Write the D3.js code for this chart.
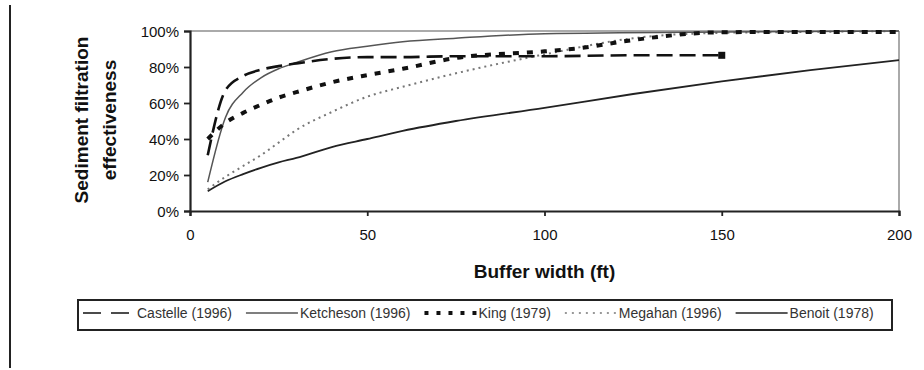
<!DOCTYPE html>
<html>
<head>
<meta charset="utf-8">
<script src="https://cdn.jsdelivr.net/npm/d3@7"></script>
<style>
  body { margin: 0; background: #fff; }
  text { font-family: "Liberation Sans", Arial, sans-serif; }
</style>
</head>
<body>
<svg id="chart" width="924" height="370"></svg>
<script>
// values (buffer width in ft, effectiveness in %)
var seriesNames = ["Castelle (1996)", "Ketcheson (1996)", "King (1979)", "Megahan (1996)", "Benoit (1978)"];

var castelleX = [5, 10, 15, 20, 25, 30, 40, 50, 60, 75, 100, 125, 150];
var castelleY = [31, 67, 75, 78.5, 80.5, 82, 84.5, 85.5, 85.5, 86, 86, 86.5, 86.5];

var ketchesonX = [5, 10, 15, 20, 25, 30, 40, 50, 60, 75, 100, 150, 200];
var ketchesonY = [16, 52, 66, 74, 79, 82.5, 88.5, 91.5, 94, 96, 98.5, 99.5, 100];

var kingX = [5, 10, 15, 20, 25, 30, 40, 50, 60, 75, 100, 110, 125, 150, 175, 200];
var kingY = [40, 49, 54.5, 59, 63, 66, 71.5, 75.5, 79, 85, 88.7, 90.5, 95, 99.3, 99.5, 99.5];

var megahanX = [5, 10, 15, 20, 25, 30, 40, 50, 60, 75, 100, 125, 150, 175, 200];
var megahanY = [12, 19, 25, 31, 38, 45, 55, 63.5, 69, 76.5, 87, 96, 99, 99.5, 100];

var benoitX = [5, 10, 15, 20, 25, 30, 40, 50, 60, 75, 100, 125, 150, 175, 200];
var benoitY = [11, 16.5, 20.5, 24, 27, 29.5, 35.5, 40, 44.5, 50, 57.3, 65, 72, 78.3, 83.8];

var xTicks = [0, 50, 100, 150, 200];
var yTicks = [0, 20, 40, 60, 80, 100];

// line looks per series
var styles = [
  { stroke: "#111", width: 2.6, dash: "16,7", legendWidth: 1.6, legendDash: "18,10" },
  { stroke: "#555", width: 1.5, dash: null,   legendWidth: 1.4, legendDash: null },
  { stroke: "#111", width: 4,   dash: "6,8",  legendWidth: 3.8, legendDash: "4,8" },
  { stroke: "#777", width: 2,   dash: "2,4",  legendWidth: 1.5, legendDash: "2,5" },
  { stroke: "#222", width: 1.8, dash: null,   legendWidth: 1.6, legendDash: null }
];

var xs = [castelleX, ketchesonX, kingX, megahanX, benoitX];
var ys = [castelleY, ketchesonY, kingY, megahanY, benoitY];
var series = seriesNames.map(function(name, i) {
  return { name: name, style: styles[i],
           values: xs[i].map(function(x, j) { return { x: x, y: ys[i][j] }; }) };
});

var svg = d3.select("#chart");
var margin = { top: 31, left: 190 },
    width = 709, height = 180;

var x = d3.scaleLinear().domain([0, 200]).range([0, width]);
var y = d3.scaleLinear().domain([0, 100]).range([height, 0]);

// page rule on the left
svg.append("line")
  .attr("x1", 10).attr("x2", 10).attr("y1", 5).attr("y2", 368)
  .attr("stroke", "#222").attr("stroke-width", 2);

var g = svg.append("g").attr("transform", "translate(" + margin.left + "," + margin.top + ")");

// grey top and right frame
g.append("line").attr("x1", 0).attr("x2", width).attr("y1", y(100)).attr("y2", y(100))
  .attr("stroke", "#aaa").attr("stroke-width", 2);
g.append("line").attr("x1", width).attr("x2", width).attr("y1", 0).attr("y2", height)
  .attr("stroke", "#aaa").attr("stroke-width", 2);

// axes
var yAxis = g.append("g")
  .call(d3.axisLeft(y).tickValues(yTicks).tickSize(6).tickPadding(5)
        .tickFormat(function(d) { return d + "%"; }));
var xAxis = g.append("g").attr("transform", "translate(0," + height + ")")
  .call(d3.axisBottom(x).tickValues(xTicks).tickSize(5).tickPadding(13));

[yAxis, xAxis].forEach(function(ax) {
  ax.select(".domain").attr("stroke", "#222").attr("stroke-width", 2.2);
  ax.selectAll(".tick line").attr("stroke", "#222").attr("stroke-width", 1.8);
  ax.selectAll("text").attr("font-size", 15).attr("fill", "#111")
    .style("font-family", "'Liberation Sans', Arial, sans-serif");
});
yAxis.selectAll(".tick text").attr("dy", "0.35em");

// series lines
var line = d3.line()
  .x(function(d) { return x(d.x); })
  .y(function(d) { return y(d.y); })
  .curve(d3.curveMonotoneX);

// draw lower ones first so the heavy dashes sit on top
var drawOrder = [4, 3, 1, 2, 0];
drawOrder.forEach(function(i) {
  var s = series[i];
  g.append("path")
    .datum(s.values)
    .attr("fill", "none")
    .attr("stroke", s.style.stroke)
    .attr("stroke-width", s.style.width)
    .attr("stroke-dasharray", s.style.dash)
    .attr("d", line);
});

// Castelle's end marker
var lastC = series[0].values[series[0].values.length - 1];
g.append("rect")
  .attr("x", x(lastC.x) - 3.5).attr("y", y(lastC.y) - 3.5)
  .attr("width", 7).attr("height", 7).attr("fill", "#111");

// axis titles
var yTitle = svg.append("text")
  .attr("transform", "translate(88,120) rotate(-90)")
  .attr("text-anchor", "middle")
  .attr("font-size", 19).attr("font-weight", "bold").attr("fill", "#111");
yTitle.append("tspan").attr("x", 0).attr("dy", 0).text("Sediment filtration");
yTitle.append("tspan").attr("x", 0).attr("dy", 28).text("effectiveness");

svg.append("text")
  .attr("x", margin.left + width / 2).attr("y", 278)
  .attr("text-anchor", "middle")
  .attr("font-size", 19).attr("font-weight", "bold").attr("fill", "#111")
  .text("Buffer width (ft)");

// legend
var legend = svg.append("g");
legend.append("rect")
  .attr("x", 78).attr("y", 300).attr("width", 814).attr("height", 30)
  .attr("fill", "#fff").attr("stroke", "#222").attr("stroke-width", 2);

var lx = 83, sampleW = 52, gap = 14;
series.forEach(function(s) {
  legend.append("line")
    .attr("x1", lx).attr("x2", lx + sampleW).attr("y1", 313).attr("y2", 313)
    .attr("stroke", s.style.stroke)
    .attr("stroke-width", s.style.legendWidth)
    .attr("stroke-dasharray", s.style.legendDash);
  var t = legend.append("text")
    .attr("x", lx + sampleW + 2).attr("y", 318)
    .attr("font-size", 14).attr("fill", "#333")
    .text(s.name);
  lx = lx + sampleW + 2 + t.node().getComputedTextLength() + gap;
});
</script>
</body>
</html>
